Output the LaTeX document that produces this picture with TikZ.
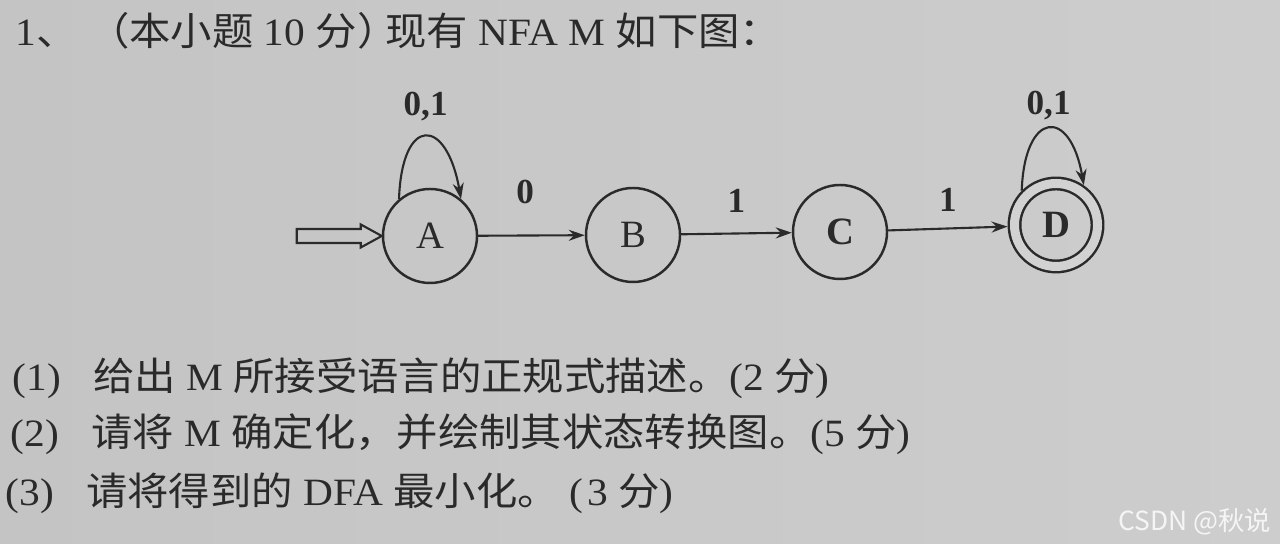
\documentclass[tikz,border=0pt]{standalone}
\usepackage{fontspec}
\setmainfont{Liberation Serif}
\newfontfamily\cjk{Noto Sans CJK SC}
\usetikzlibrary{arrows.meta}

\definecolor{ink}{HTML}{2A2A2A}
\definecolor{paperleft}{HTML}{C4C4C4}
\definecolor{papermid}{HTML}{D5D5D5}
\definecolor{paperright}{HTML}{CDCDCD}

\begin{document}
\begin{tikzpicture}[
    state/.style={circle, draw=ink, line width=0.7pt, minimum size=0.94cm,
        inner sep=0pt, text=ink, font=\fontsize{11}{13}\selectfont},
    final/.style={state, double=papermid!60!paperright, double distance=0.09cm,
        minimum size=0.83cm, outer sep=0.07cm},
    trans/.style={draw=ink, line width=0.6pt, -{Stealth[length=1.6mm, width=1.1mm]}},
    lbl/.style={inner sep=0pt, text=ink, font=\bfseries\fontsize{10}{12}\selectfont},
    txt/.style={anchor=base west, inner sep=0pt, text=ink, xscale=1.07,
        font=\fontsize{11}{13}\selectfont}
]
    \useasboundingbox (0,0) rectangle (12.8,5.44);
    \shade[left color=paperleft, middle color=papermid, right color=paperright]
        (0,0) rectangle (12.8,5.44);

    % question text
    \node[txt] (title) at (0.15,4.98) {1{\cjk 、} {\cjk （本小题} 10 {\cjk 分）}\hspace{-0.12cm}{\cjk 现有} NFA M {\cjk 如下图：}};

    % the NFA
    \node[state] (A) at (4.30,3.08) {A};
    \node[state] (B) at (6.33,3.09) {B};
    \node[state] (C) at (8.40,3.12) {\bfseries C};
    \node[final] (D) at (10.56,3.19) {\bfseries D};

    \draw[ink, line width=0.6pt] (A.west) -- ++(-0.21,0.115) -- ++(0,-0.045)
        -- ++(-0.64,0) -- ++(0,-0.14) -- ++(0.64,0) -- ++(0,-0.045) -- cycle;

    \draw[trans] (A.130) to[out=88, in=100, distance=0.84cm]
        node[lbl, above=0.15cm] {0,1} (A.50);
    \draw[trans] (D.135) to[out=88, in=100, distance=0.80cm]
        node[lbl, above=0.07cm] {0,1} (D.55);
    \draw[trans] (A) -- node[lbl, pos=0.44, above=0.31cm] {0} (B);
    \draw[trans] (B) -- node[lbl, above=0.20cm] {1} (C);
    \draw[trans] (C) -- node[lbl, above=0.16cm] {1} (D);

    % sub-questions
    \node[txt] (q1) at (0.12,1.53) {(1)\hspace{0.3cm}{\cjk 给出} M {\cjk 所接受语言的正规式描述。}(2 {\cjk 分})};
    \node[txt] (q2) at (0.10,0.97) {(2)\hspace{0.3cm}{\cjk 请将} M {\cjk 确定化，并绘制其状态转换图。}(5 {\cjk 分})};
    \node[txt] (q3) at (0.05,0.38) {(3)\hspace{0.3cm}{\cjk 请将得到的} DFA {\cjk 最小化。}\hspace{0.1cm}(\hspace{0.04cm}3 {\cjk 分})};

    \node[anchor=base east, inner sep=0pt, text=white!92!gray,
        font=\cjk\fontsize{7.5}{9}\selectfont] (mark) at (12.72,0.13) {CSDN @秋说};
\end{tikzpicture}
\end{document}
